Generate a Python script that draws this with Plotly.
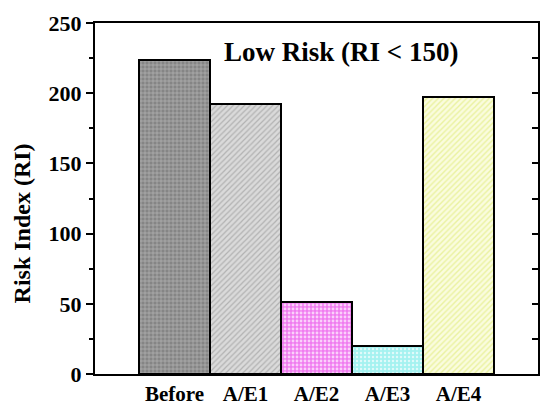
import plotly.graph_objects as go

categories = ["Before", "A/E1", "A/E2", "A/E3", "A/E4"]
risk_index = [224, 192, 51, 20, 197]
bg_colors = ["#858585", "#dadada", "#f07cf0", "#a4f2f0", "#fafcde"]
fg_colors = ["#bdbdbd", "#b2b2b2", "#fbd0fb", "#e0fbfb", "#eaf2a0"]
shapes = ["+", "/", ".", ".", "/"]
solidities = [0.25, 0.3, 0.4, 0.3, 0.35]
y_ticks = [0, 50, 100, 150, 200, 250]

FONT = "Liberation Serif"

fig = go.Figure()
for cat, val, bg, fg, shp, sol in zip(categories, risk_index, bg_colors,
                                      fg_colors, shapes, solidities):
    fig.add_trace(go.Bar(
        x=[cat],
        y=[val],
        marker=dict(
            color=bg,
            line=dict(color="black", width=2),
            pattern=dict(shape=shp, bgcolor=bg, fgcolor=fg,
                         size=4, solidity=sol, fillmode="replace"),
        ),
        width=1,
        showlegend=False,
    ))
# invisible companion trace so the right-hand (inward tick) axis is drawn
fig.add_trace(go.Scatter(
    x=categories, y=risk_index, yaxis="y2", mode="none",
    showlegend=False, hoverinfo="skip",
))

fig.update_layout(
    width=540, height=406,
    margin=dict(l=95, r=0, t=23, b=31),
    paper_bgcolor="white", plot_bgcolor="white",
    barmode="overlay",
    bargap=0,
    font=dict(family=FONT, color="black"),
    xaxis=dict(
        range=[-1.12, 5.12],
        categoryorder="array", categoryarray=categories,
        showline=True, linecolor="black", linewidth=2, mirror=True,
        ticks="", showgrid=False,
        tickfont=dict(family=FONT, size=21, color="black", weight="bold"),
    ),
    yaxis=dict(
        range=[0, 250],
        tickvals=y_ticks,
        showline=True, linecolor="black", linewidth=2, mirror=True,
        ticks="outside", ticklen=7, tickwidth=2, tickcolor="black",
        minor=dict(dtick=25, ticks="outside", ticklen=4, tickwidth=2, tickcolor="black"),
        showgrid=False, zeroline=False,
        tickfont=dict(family=FONT, size=22, color="black", weight="bold"),
    ),
    yaxis2=dict(
        range=[0, 250], overlaying="y", side="right", anchor="x",
        tickvals=y_ticks,
        ticks="inside", ticklen=6, tickwidth=2, tickcolor="black",
        minor=dict(dtick=25, ticks="inside", ticklen=6, tickwidth=2, tickcolor="black"),
        showticklabels=False, showgrid=False, showline=False, zeroline=False,
    ),
)

fig.add_annotation(
    text="Low Risk (RI < 150)", xref="paper", yref="paper",
    x=0.555, y=0.918, showarrow=False, xanchor="center", yanchor="middle",
    font=dict(family=FONT, size=27, color="black", weight="bold"),
)
fig.add_annotation(
    text="Risk Index (RI)", xref="paper", yref="paper",
    x=-0.164, y=0.43, showarrow=False, xanchor="center", yanchor="middle",
    textangle=-90,
    font=dict(family=FONT, size=24, color="black", weight="bold"),
)

fig.write_html("out.html", config={"displayModeBar": False},
               post_script="document.body.style.margin='0';")
